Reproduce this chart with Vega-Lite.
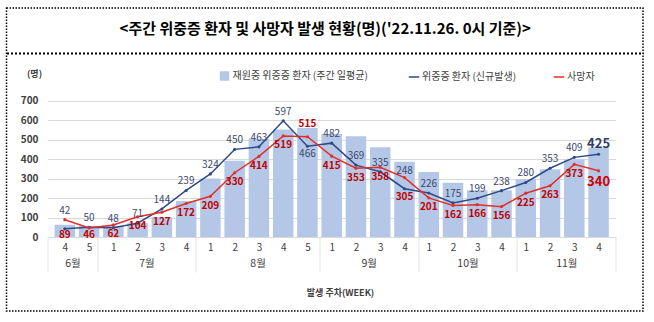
{
  "$schema": "https://vega.github.io/schema/vega-lite/v6.json",
  "autosize": {"type": "none"},
  "padding": {"left": 6.5, "top": 8, "right": 11, "bottom": 11},
  "width": 636.5,
  "height": 303,
  "background": "white",
  "config": {
    "font": "Noto Sans CJK KR",
    "view": {"stroke": "#000", "strokeDash": [1.5, 1.5], "strokeWidth": 1.5},
    "legend": {"labelFont": "Noto Sans CJK KR", "labelFontSize": 10, "labelColor": "#404040", "padding": 0}
  },
  "data": {"values": [
    {"i": 1, "mon": "6월", "wk": 4, "bar": 63, "sev": 42, "death": 89},
    {"i": 2, "mon": "6월", "wk": 5, "bar": 57, "sev": 50, "death": 46},
    {"i": 3, "mon": "7월", "wk": 1, "bar": 58, "sev": 48, "death": 62},
    {"i": 4, "mon": "7월", "wk": 2, "bar": 72, "sev": 71, "death": 104},
    {"i": 5, "mon": "7월", "wk": 3, "bar": 103, "sev": 144, "death": 127},
    {"i": 6, "mon": "7월", "wk": 4, "bar": 185, "sev": 239, "death": 172},
    {"i": 7, "mon": "8월", "wk": 1, "bar": 300, "sev": 324, "death": 209},
    {"i": 8, "mon": "8월", "wk": 2, "bar": 391, "sev": 450, "death": 330},
    {"i": 9, "mon": "8월", "wk": 3, "bar": 504, "sev": 463, "death": 414},
    {"i": 10, "mon": "8월", "wk": 4, "bar": 552, "sev": 597, "death": 519},
    {"i": 11, "mon": "8월", "wk": 5, "bar": 560, "sev": 466, "death": 515},
    {"i": 12, "mon": "9월", "wk": 1, "bar": 529, "sev": 482, "death": 415},
    {"i": 13, "mon": "9월", "wk": 2, "bar": 518, "sev": 369, "death": 353},
    {"i": 14, "mon": "9월", "wk": 3, "bar": 461, "sev": 335, "death": 358},
    {"i": 15, "mon": "9월", "wk": 4, "bar": 386, "sev": 248, "death": 305},
    {"i": 16, "mon": "10월", "wk": 1, "bar": 334, "sev": 226, "death": 201},
    {"i": 17, "mon": "10월", "wk": 2, "bar": 278, "sev": 175, "death": 162},
    {"i": 18, "mon": "10월", "wk": 3, "bar": 240, "sev": 199, "death": 166},
    {"i": 19, "mon": "10월", "wk": 4, "bar": 240, "sev": 238, "death": 156},
    {"i": 20, "mon": "11월", "wk": 1, "bar": 297, "sev": 280, "death": 225},
    {"i": 21, "mon": "11월", "wk": 2, "bar": 348, "sev": 353, "death": 263},
    {"i": 22, "mon": "11월", "wk": 3, "bar": 399, "sev": 409, "death": 373},
    {"i": 23, "mon": "11월", "wk": 4, "bar": 460, "sev": 425, "death": 340}
  ]},
  "resolve": {"scale": {"x": "independent"}, "axis": {"x": "independent"}},
  "layer": [
    {
      "encoding": {
        "x": {
          "field": "i", "type": "quantitative",
          "scale": {"domain": [0.5, 23.5], "range": [41.2, 609.2], "nice": false, "zero": false},
          "axis": {
            "orient": "bottom", "offset": -74, "title": null,
            "values": [1,2,3,4,5,6,7,8,9,10,11,12,13,14,15,16,17,18,19,20,21,22,23],
            "labelExpr": "['','4','5','1','2','3','4','1','2','3','4','5','1','2','3','4','1','2','3','4','1','2','3','4'][datum.value]",
            "labelFlush": false, "labelOverlap": false, "ticks": false, "tickSize": 0,
            "domain": true, "domainColor": "#d9d9d9", "grid": false,
            "labelPadding": 5, "labelFontSize": 10, "labelColor": "#404040"
          }
        }
      },
      "layer": [
        {
          "mark": {"type": "bar", "orient": "vertical", "size": 20.5},
          "encoding": {
            "y": {
              "field": "bar", "type": "quantitative",
              "scale": {"domain": [0, 700], "range": [229, 92.7], "nice": false},
              "axis": {
                "title": "(명)", "values": [0,100,200,300,400,500,600,700],
                "offset": -36, "labelPadding": 4.5, "ticks": false, "tickSize": 0, "domain": false,
                "grid": true, "gridColor": "#d9d9d9", "gridWidth": 1,
                "labelColor": "#404040", "labelFontSize": 10, "labelFontWeight": "bold",
                "titleAngle": 0, "titleX": -8.5, "titleY": 65, "titleAlign": "center", "titleBaseline": "middle",
                "titleFontSize": 9, "titleFontWeight": "bold", "titleColor": "#404040"
              }
            },
            "fill": {
              "datum": "재원중 위중증 환자 (주간 일평균)", "type": "nominal",
              "scale": {"range": ["#b4c7e7"]},
              "legend": {"title": null, "orient": "none", "legendX": 213, "legendY": 63, "symbolType": "square", "symbolSize": 90, "symbolStrokeWidth": 0, "labelOffset": 3}
            }
          }
        },
        {
          "mark": {"type": "line", "strokeWidth": 1.5, "point": {"filled": true, "size": 10}},
          "encoding": {
            "y": {"field": "sev", "type": "quantitative"},
            "color": {
              "datum": "위중증 환자 (신규발생)", "type": "nominal",
              "scale": {"domain": ["위중증 환자 (신규발생)", "사망자"], "range": ["#2e4a87", "#e0302c"]},
              "legend": {"title": null, "orient": "none", "direction": "horizontal", "legendX": 401.5, "legendY": 63, "symbolType": "stroke", "symbolSize": 110, "symbolStrokeWidth": 1.5, "columnPadding": 33, "labelOffset": 2}
            }
          }
        },
        {
          "mark": {"type": "line", "strokeWidth": 1.5, "point": {"filled": true, "size": 10}},
          "encoding": {
            "y": {"field": "death", "type": "quantitative"},
            "color": {"datum": "사망자", "type": "nominal"}
          }
        },
        {
          "transform": [{"filter": "datum.i < 23 && datum.i != 1 && datum.i != 11 && datum.i != 15"}],
          "mark": {"type": "text", "fontSize": 10, "color": "#3b4a6b", "baseline": "middle", "dy": -9},
          "encoding": {
            "y": {"field": "sev", "type": "quantitative"},
            "text": {"field": "sev", "type": "quantitative"}
          }
        },
        {
          "transform": [{"filter": "datum.i == 1 || datum.i == 15"}],
          "mark": {"type": "text", "fontSize": 10, "color": "#3b4a6b", "baseline": "middle", "dy": -18},
          "encoding": {
            "y": {"field": "sev", "type": "quantitative"},
            "text": {"field": "sev", "type": "quantitative"}
          }
        },
        {
          "transform": [{"filter": "datum.i == 11"}],
          "mark": {"type": "text", "fontSize": 10, "color": "#3b4a6b", "baseline": "middle", "dy": 7.5},
          "encoding": {
            "y": {"field": "sev", "type": "quantitative"},
            "text": {"field": "sev", "type": "quantitative"}
          }
        },
        {
          "transform": [{"filter": "datum.i < 23 && datum.i > 2 && datum.i != 11 && datum.i != 15"}],
          "mark": {"type": "text", "fontSize": 10, "fontWeight": "bold", "color": "#c00000", "baseline": "middle", "dy": 9.5},
          "encoding": {
            "y": {"field": "death", "type": "quantitative"},
            "text": {"field": "death", "type": "quantitative"}
          }
        },
        {
          "transform": [{"filter": "datum.i == 1"}],
          "mark": {"type": "text", "fontSize": 10, "fontWeight": "bold", "color": "#c00000", "baseline": "middle", "dy": 15},
          "encoding": {
            "y": {"field": "death", "type": "quantitative"},
            "text": {"field": "death", "type": "quantitative"}
          }
        },
        {
          "transform": [{"filter": "datum.i == 2"}],
          "mark": {"type": "text", "fontSize": 10, "fontWeight": "bold", "color": "#c00000", "baseline": "middle", "dy": 7},
          "encoding": {
            "y": {"field": "death", "type": "quantitative"},
            "text": {"field": "death", "type": "quantitative"}
          }
        },
        {
          "transform": [{"filter": "datum.i == 15"}],
          "mark": {"type": "text", "fontSize": 10, "fontWeight": "bold", "color": "#c00000", "baseline": "middle", "dy": 19},
          "encoding": {
            "y": {"field": "death", "type": "quantitative"},
            "text": {"field": "death", "type": "quantitative"}
          }
        },
        {
          "transform": [{"filter": "datum.i == 11"}],
          "mark": {"type": "text", "fontSize": 10, "fontWeight": "bold", "color": "#c00000", "baseline": "middle", "dy": -12.5},
          "encoding": {
            "y": {"field": "death", "type": "quantitative"},
            "text": {"field": "death", "type": "quantitative"}
          }
        },
        {
          "transform": [{"filter": "datum.i == 23"}],
          "mark": {"type": "text", "fontSize": 13, "fontWeight": "bold", "color": "#2e3f66", "baseline": "middle", "dy": -10},
          "encoding": {
            "y": {"field": "sev", "type": "quantitative"},
            "text": {"field": "sev", "type": "quantitative"}
          }
        },
        {
          "transform": [{"filter": "datum.i == 23"}],
          "mark": {"type": "text", "fontSize": 13, "fontWeight": "bold", "color": "#d00000", "baseline": "middle", "dy": 11},
          "encoding": {
            "y": {"field": "death", "type": "quantitative"},
            "text": {"field": "death", "type": "quantitative"}
          }
        }
      ]
    },
    {
      "mark": {"type": "rule", "opacity": 0},
      "encoding": {
        "x": {
          "field": "i", "type": "quantitative",
          "scale": {"domain": [0.5, 23.5], "range": [41.2, 609.2], "nice": false, "zero": false},
          "axis": {
            "orient": "bottom", "offset": -74,
            "values": [1.5, 4.5, 9, 13.5, 17.5, 21.5],
            "labelExpr": "['6월','7월','8월','9월','10월','11월'][indexof([1.5, 4.5, 9, 13.5, 17.5, 21.5], datum.value)]",
            "labelFlush": false, "labelOverlap": false, "ticks": false, "tickSize": 0, "domain": false, "grid": false,
            "labelPadding": 21, "labelFontSize": 10.5, "labelColor": "#404040",
            "title": "발생 주차(WEEK)", "titleX": 333.5, "titleY": 55, "titleBaseline": "middle",
            "titleFontSize": 9, "titleFontWeight": "bold", "titleColor": "#404040"
          }
        }
      }
    },
    {
      "mark": {"type": "rule", "opacity": 0},
      "encoding": {
        "x": {
          "field": "i", "type": "quantitative",
          "scale": {"domain": [0.5, 23.5], "range": [41.2, 609.2], "nice": false, "zero": false},
          "axis": {
            "orient": "bottom", "offset": -74,
            "values": [0.5, 2.5, 6.5, 11.5, 15.5, 19.5, 23.5],
            "labels": false, "ticks": true, "tickSize": 35, "tickColor": "#e3e3e3", "tickWidth": 1,
            "domain": false, "grid": false, "title": null
          }
        }
      }
    },
    {
      "mark": {"type": "rule", "opacity": 0},
      "encoding": {
        "x": {
          "field": "i", "type": "quantitative",
          "scale": {"domain": [0.5, 23.5], "range": [0, 636.5], "nice": false, "zero": false},
          "axis": {
            "orient": "top", "offset": -45,
            "labels": false, "ticks": false, "grid": false,
            "domain": true, "domainColor": "#000", "domainDash": [2, 2], "domainWidth": 2,
            "title": "<주간 위중증 환자 및 사망자 발생 현황(명)('22.11.26. 0시 기준)>",
            "titleX": 318.25, "titleY": -25, "titleAlign": "center", "titleBaseline": "middle",
            "titleFontSize": 15, "titleFontWeight": "bold", "titleColor": "#000"
          }
        }
      }
    }
  ]
}
